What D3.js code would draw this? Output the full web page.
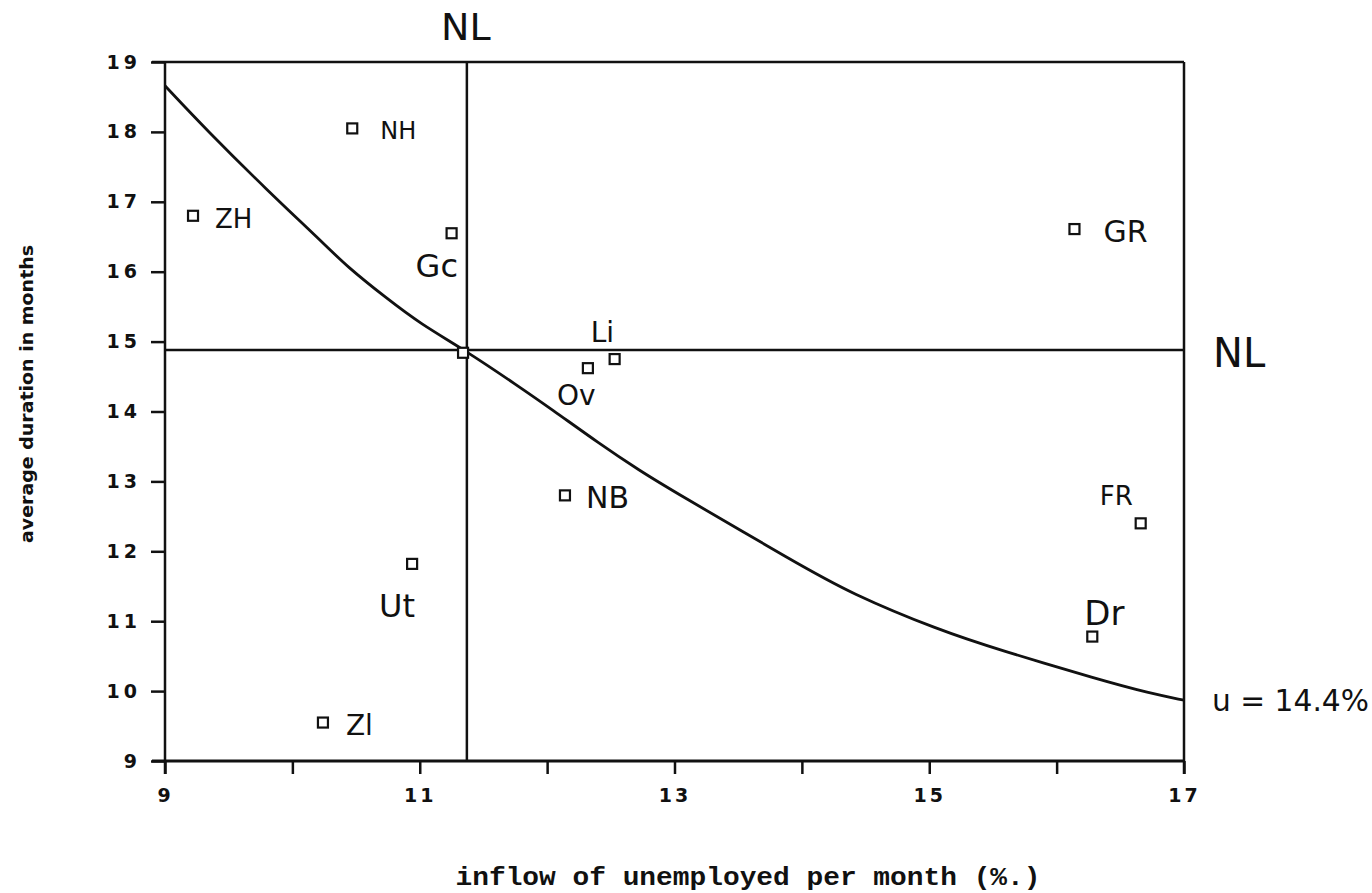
<!DOCTYPE html>
<html>
<head>
<meta charset="utf-8">
<script src="https://cdn.jsdelivr.net/npm/d3@7"></script>
<style>
  html, body { margin: 0; padding: 0; background: #fff; }
  svg { display: block; }
</style>
</head>
<body>
<div id="chart"></div>
<script>
// ---- data ----
const xTickValues = [9, 10, 11, 12, 13, 14, 15, 16, 17];
const xTickLabels = [9, 11, 13, 15, 17];
const yTickValues = [9, 10, 11, 12, 13, 14, 15, 16, 17, 18, 19];

const regions  = ["ZH", "NH", "Gc", "NL", "Ov", "Li", "NB", "Ut", "Zl", "GR", "FR", "Dr"];
const inflow   = [9.22, 10.47, 11.25, 11.34, 12.32, 12.53, 12.14, 10.94, 10.24, 16.14, 16.66, 16.28];
const duration = [16.80, 18.05, 16.55, 14.84, 14.62, 14.75, 12.80, 11.82, 9.55, 16.61, 12.40, 10.78];

const curveInflow   = [9.00, 9.33, 9.80, 10.22, 10.43, 10.74, 11.00, 11.37, 11.76, 12.03, 12.41, 12.73, 12.99, 13.96, 14.38, 15.08, 15.55, 16.34, 16.73, 17.00];
const curveDuration = [18.66, 18.02, 17.17, 16.45, 16.07, 15.62, 15.26, 14.86, 14.38, 14.04, 13.54, 13.15, 12.86, 11.83, 11.40, 10.87, 10.59, 10.16, 9.97, 9.87];

const nlInflow = 11.37;
const nlDuration = 14.88;

const xTitle = "inflow of unemployed per month (%.)";
const yTitle = "average duration in months";
const curveLabel = "u = 14.4%";

// label placement (pixel offsets from each square), layout only
const labelDx = [22, 28, -36, 0, -31, -24, 21, -33, 23, 29, -41, -8];
const labelDy = [12, 11, 44, 0, 37, -17, 13, 53, 12, 13, -18, -12];
const labelSize = [26, 24, 32, 0, 28, 28, 30, 32, 28, 30, 26, 34];

// ---- layout ----
const W = 1372, H = 893;
const svg = d3.select("#chart").append("svg").attr("width", W).attr("height", H);

const x = d3.scaleLinear().domain([9, 17]).range([165, 1184]);
const y = d3.scaleLinear().domain([9, 19]).range([761, 62]);

const ink = "#111";
const tickFont = "'DejaVu Sans', sans-serif";
const handFont = "'DejaVu Sans', sans-serif";

// frame: top and right border
svg.append("line").attr("x1", 152).attr("x2", x(17)).attr("y1", y(19)).attr("y2", y(19))
  .attr("stroke", ink).attr("stroke-width", 2.5);
svg.append("line").attr("x1", x(17)).attr("x2", x(17)).attr("y1", y(19)).attr("y2", y(9) + 13)
  .attr("stroke", ink).attr("stroke-width", 2.5);

// x axis
const xAxis = d3.axisBottom(x).tickValues(xTickValues).tickSize(13).tickPadding(15)
  .tickFormat(d => xTickLabels.includes(d) ? d : "");
const gx = svg.append("g").attr("transform", `translate(0,${y(9)})`).call(xAxis);
gx.select(".domain").attr("stroke", ink).attr("stroke-width", 3)
  .attr("d", `M152,0H${x(17)}`);
gx.selectAll(".tick line").attr("stroke", ink).attr("stroke-width", 2.5);
gx.selectAll(".tick text").attr("fill", ink).attr("font-family", tickFont)
  .attr("font-size", 19).attr("font-weight", "bold").attr("letter-spacing", 3);

// y axis
const yAxis = d3.axisLeft(y).tickValues(yTickValues).tickSize(14).tickPadding(10);
const gy = svg.append("g").attr("transform", `translate(${x(9)},0)`).call(yAxis);
gy.select(".domain").attr("stroke", ink).attr("stroke-width", 2.5)
  .attr("d", `M0,${y(19)}V${y(9) + 13}`);
gy.selectAll(".tick line").attr("stroke", ink).attr("stroke-width", 2.5);
gy.selectAll(".tick text").attr("fill", ink).attr("font-family", tickFont)
  .attr("font-size", 19).attr("font-weight", "bold").attr("letter-spacing", 4);

// NL reference lines
svg.append("line").attr("x1", x(9)).attr("x2", x(17)).attr("y1", y(nlDuration)).attr("y2", y(nlDuration))
  .attr("stroke", ink).attr("stroke-width", 2.5);
svg.append("line").attr("x1", x(nlInflow)).attr("x2", x(nlInflow)).attr("y1", y(19)).attr("y2", y(9))
  .attr("stroke", ink).attr("stroke-width", 2.5);

// curve
const curveData = curveInflow.map((v, i) => [v, curveDuration[i]]);
svg.append("path").datum(curveData)
  .attr("d", d3.line().x(d => x(d[0])).y(d => y(d[1])).curve(d3.curveBasis))
  .attr("fill", "none").attr("stroke", ink).attr("stroke-width", 2.8);

// points
const pts = regions.map((r, i) => ({ r, xv: inflow[i], yv: duration[i], i }));
svg.append("g").selectAll("rect").data(pts).join("rect")
  .attr("x", d => x(d.xv) - 5).attr("y", d => y(d.yv) - 5)
  .attr("width", 10).attr("height", 10)
  .attr("fill", "#fff").attr("stroke", ink).attr("stroke-width", 2.2);

// point labels (handwritten in original)
svg.append("g").selectAll("text").data(pts.filter(d => labelSize[d.i] > 0)).join("text")
  .attr("x", d => x(d.xv) + labelDx[d.i]).attr("y", d => y(d.yv) + labelDy[d.i])
  .attr("font-family", handFont).attr("font-size", d => labelSize[d.i])
  .attr("fill", ink)
  .text(d => d.r);

// NL labels
svg.append("text").attr("x", x(nlInflow) - 1).attr("y", 40).attr("text-anchor", "middle")
  .attr("font-family", handFont).attr("font-size", 38).attr("fill", ink).text("NL");
svg.append("text").attr("x", 1213).attr("y", y(nlDuration) + 17)
  .attr("font-family", handFont).attr("font-size", 40).attr("fill", ink).text("NL");

// curve label
svg.append("text").attr("x", 1212).attr("y", y(curveDuration[curveDuration.length - 1]) + 11)
  .attr("font-family", handFont).attr("font-size", 30).attr("fill", ink)
  .attr("textLength", 157).attr("lengthAdjust", "spacingAndGlyphs").text(curveLabel);

// axis titles
svg.append("text").attr("x", 748).attr("y", 885).attr("text-anchor", "middle")
  .attr("font-family", "'Liberation Mono', 'DejaVu Sans Mono', monospace")
  .attr("font-size", 26).attr("font-weight", "bold").attr("fill", ink)
  .attr("textLength", 585).attr("lengthAdjust", "spacingAndGlyphs").text(xTitle);

svg.append("text").attr("transform", `translate(33,394) rotate(-90)`).attr("text-anchor", "middle")
  .attr("font-family", "'DejaVu Sans', sans-serif").attr("font-size", 17).attr("font-weight", "bold")
  .attr("fill", ink).attr("textLength", 298).attr("lengthAdjust", "spacingAndGlyphs").text(yTitle);
</script>
</body>
</html>
